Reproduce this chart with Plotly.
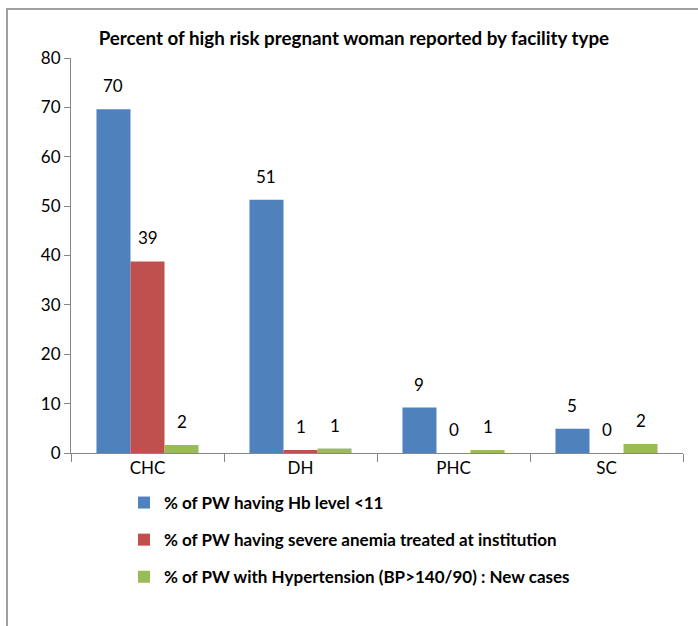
import plotly.graph_objects as go

categories = ["CHC", "DH", "PHC", "SC"]
series_names = [
    "% of PW having Hb level <11",
    "% of PW having severe anemia treated at institution",
    "% of PW with Hypertension (BP>140/90) : New cases",
]
hb_low = [69.6, 51.3, 9.2, 4.9]
severe_anemia = [38.8, 0.6, 0.0, 0.0]
hypertension = [1.6, 0.9, 0.6, 1.8]
colors = ["#4F81BD", "#C0504D", "#9BBB59"]

FONT = "Lato"
L, R, T, B = 71, 15, 58, 173
W, H = 698, 626

fig = go.Figure()
all_series = [hb_low, severe_anemia, hypertension]
for i, (name, vals, col) in enumerate(zip(series_names, all_series, colors)):
    fig.add_trace(go.Bar(
        x=categories, y=vals, name=name, marker_color=col,
        marker_line_width=0, legendgroup=f"g{i}",
    ))

bar_px = 612 / 4 * (1 - 0.333) / 3
for i, vals in enumerate(all_series):
    for c, v in zip(categories, vals):
        fig.add_annotation(
            x=c, y=v, xref="x", yref="y", text=f"{int(v + 0.5)}",
            showarrow=False, xshift=(i - 1) * bar_px, yshift=11,
            yanchor="bottom", font=dict(family=FONT, size=17, color="#000"),
        )

fig.add_shape(
    type="rect", xref="paper", yref="paper",
    xsizemode="pixel", ysizemode="pixel", xanchor=0, yanchor=1,
    x0=7 - L, x1=W + 5 - L, y0=T - 9, y1=-(H + 5 - T),
    line=dict(color="#a0a0a0", width=2), fillcolor="rgba(0,0,0,0)",
    layer="below",
)

fig.update_layout(
    width=W, height=H,
    margin=dict(l=L, r=R, t=T, b=B),
    paper_bgcolor="white", plot_bgcolor="white",
    barmode="group", bargap=0.333, bargroupgap=0,
    title=dict(text="<b>Percent of high risk pregnant woman reported by facility type</b>",
               x=0.507, xanchor="center", y=1 - 38 / H, yanchor="middle",
               font=dict(family=FONT, size=18.8, color="#000")),
    font=dict(family=FONT, size=17, color="#000"),
    showlegend=True,
    legend=dict(x=(124 - L) / 612, xanchor="left", y=-(485 - 453) / 395, yanchor="top",
                orientation="v", tracegroupgap=12, itemwidth=30,
                font=dict(family=FONT, size=17, color="#000", weight="bold"),
                bgcolor="rgba(0,0,0,0)"),
    xaxis=dict(showline=True, linecolor="#868686", linewidth=1,
               ticks="outside", tickson="boundaries", ticklen=8, tickcolor="#868686",
               tickfont=dict(family=FONT, size=17), showgrid=False),
    yaxis=dict(range=[0, 80], dtick=10, showline=True, linecolor="#868686", linewidth=1,
               ticks="outside", ticklen=6, tickcolor="#868686", showgrid=False,
               zeroline=False, tickfont=dict(family=FONT, size=17)),
)

fig.write_html("out.html", config={"displayModeBar": False},
               post_script="document.body.style.margin='0px';")
